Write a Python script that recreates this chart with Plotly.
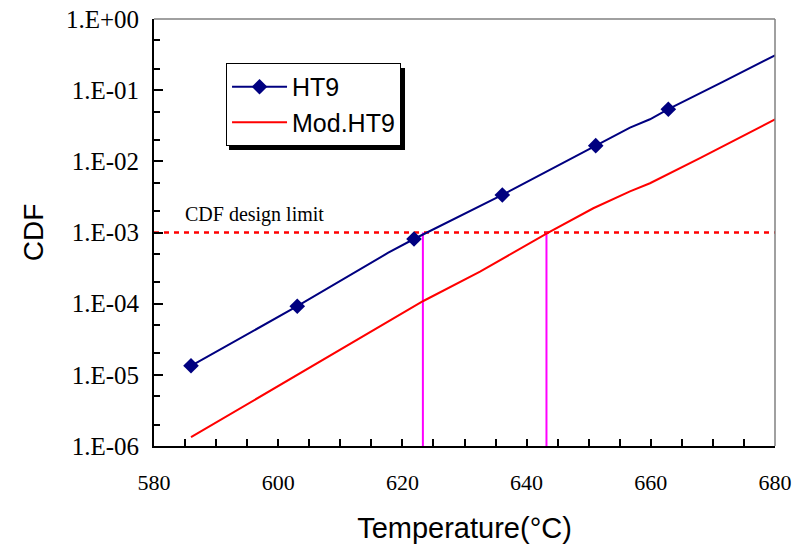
import plotly.graph_objects as go

# ---- data ----
ht9_temp = [585.96, 603.07, 617.73, 621.87, 636.09, 651.13, 656.65, 659.87, 662.82, 671.67, 680.85]
ht9_cdf = [1.34e-5, 9.2e-5, 5.2e-4, 8.1e-4, 3.37e-3, 1.66e-2, 2.97e-2, 3.9e-2, 5.4e-2, 0.132, 0.336]
ht9_marker_temp = [585.96, 603.07, 621.87, 636.09, 651.13, 662.82]
ht9_marker_cdf = [1.34e-5, 9.2e-5, 8.1e-4, 3.37e-3, 1.66e-2, 5.4e-2]

mod_temp = [585.96, 602.98, 623.37, 632.50, 643.49, 650.74, 656.65, 659.87, 667.92, 680.85]
mod_cdf = [1.33e-6, 9.8e-6, 1.09e-4, 2.82e-4, 9.97e-4, 2.19e-3, 3.78e-3, 4.92e-3, 1.11e-2, 4.25e-2]

design_limit = 1e-3
limit_temps = [623.3, 643.2]
x_range = [580, 680]
y_floor = 1e-6

x_tickvals = [580, 600, 620, 640, 660, 680]
y_tickvals = [1e-6, 1e-5, 1e-4, 1e-3, 1e-2, 1e-1, 1]
y_ticktext = ["1.E-06", "1.E-05", "1.E-04", "1.E-03", "1.E-02", "1.E-01", "1.E+00"]

NAVY = "#000080"
fig = go.Figure()

# design limit dashed line
fig.add_trace(go.Scatter(x=x_range, y=[design_limit, design_limit], mode="lines",
                         line=dict(color="#FF0000", width=2.5, dash="5px,5px"),
                         showlegend=False, hoverinfo="skip"))
# magenta drop lines
for t in limit_temps:
    fig.add_trace(go.Scatter(x=[t, t], y=[y_floor, design_limit], mode="lines",
                             line=dict(color="#FF00FF", width=2),
                             showlegend=False, hoverinfo="skip"))

# HT9 curve (line) + markers
fig.add_trace(go.Scatter(x=ht9_temp, y=ht9_cdf, mode="lines",
                         line=dict(color=NAVY, width=2), showlegend=False))
fig.add_trace(go.Scatter(x=ht9_marker_temp, y=ht9_marker_cdf, mode="markers",
                         marker=dict(symbol="diamond", size=12, color=NAVY), showlegend=False))
# legend entry for HT9
fig.add_trace(go.Scatter(x=[None], y=[None], mode="lines+markers", name="HT9",
                         line=dict(color=NAVY, width=2),
                         marker=dict(symbol="diamond", size=12, color=NAVY)))
fig.add_trace(go.Scatter(x=mod_temp, y=mod_cdf, mode="lines", name="Mod.HT9",
                         line=dict(color="#FF0000", width=2)))

fig.add_annotation(x=584.6, y=-2.74, xref="x", yref="y", text="CDF design limit",
                   showarrow=False, xanchor="left", yanchor="middle",
                   font=dict(family="Liberation Serif", size=20, color="black"))

# top/right gray frame + legend shadow
fig.add_shape(type="line", xref="paper", yref="paper", x0=0, x1=1, y0=1, y1=1,
              line=dict(color="#808080", width=1.5))
fig.add_shape(type="line", xref="paper", yref="paper", x0=1, x1=1, y0=0, y1=1,
              line=dict(color="#808080", width=1.5))
fig.add_shape(type="rect", xref="paper", yref="paper", x0=0.1208, x1=0.4042, y0=0.6932, y1=0.8852,
              fillcolor="black", line=dict(width=0), layer="above")

fig.update_layout(
    width=803, height=545,
    margin=dict(l=154, r=28, t=19, b=99, autoexpand=False),
    paper_bgcolor="white", plot_bgcolor="white",
    legend=dict(x=0.116, y=0.897, xanchor="left", yanchor="top",
                bgcolor="white", bordercolor="black", borderwidth=1,
                font=dict(family="Liberation Sans", size=25, color="black"),
                itemwidth=55, tracegroupgap=0),
    xaxis=dict(range=x_range, tickvals=x_tickvals, ticks="inside", ticklen=7, tickwidth=1.5,
               tickcolor="black", showline=True, linecolor="black", linewidth=2,
               showgrid=False, zeroline=False, automargin=False,
               minor=dict(dtick=5, ticks="inside", ticklen=7, tickwidth=1.5,
                          tickcolor="black", showgrid=False),
               tickfont=dict(family="Liberation Serif", size=22, color="black"),
               ticklabelstandoff=16,
               title=dict(text="Temperature(°C)", standoff=23,
                          font=dict(family="Liberation Sans", size=29, color="black"))),
    yaxis=dict(type="log", range=[-6, 0], tickvals=y_tickvals, ticktext=y_ticktext,
               ticks="inside", ticklen=9, tickwidth=1.5, tickcolor="black",
               showline=True, linecolor="black", linewidth=2,
               showgrid=False, zeroline=False, automargin=False,
               minor=dict(ticks="inside", ticklen=6, tickwidth=1.5, tickcolor="black",
                          showgrid=False),
               tickfont=dict(family="Liberation Serif", size=25, color="black"),
               ticklabelstandoff=8,
               title=dict(text="CDF", standoff=14,
                          font=dict(family="Liberation Sans", size=28, color="black"))),
)

fig.write_html("out.html")
